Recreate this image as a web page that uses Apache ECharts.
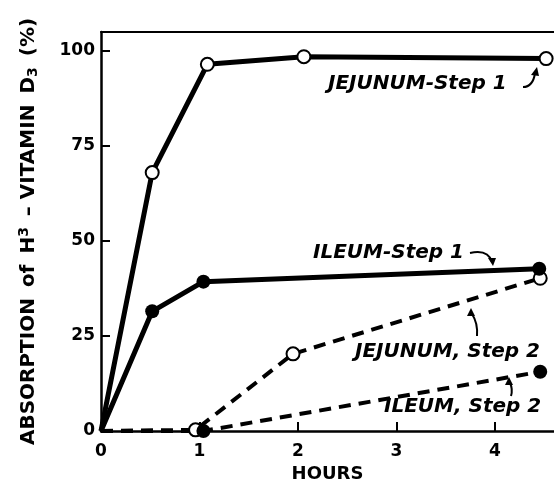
<!DOCTYPE html>
<html><head><meta charset="utf-8">
<script src="https://cdn.jsdelivr.net/npm/echarts@6/dist/echarts.min.js"></script>
<style>html,body{margin:0;padding:0;background:#fff}#c{width:554px;height:479px}</style>
</head><body><div id="c"></div>
<script>
const xTicks = [0, 1, 2, 3, 4];
const yTicks = [0, 25, 50, 75, 100];
const jejunumStep1 = [[0, 0], [0.52, 68], [1.08, 96.5], [2.06, 98.5], [4.52, 98]];
const ileumStep1 = [[0, 0], [0.52, 31.5], [1.04, 39.3], [4.45, 42.7]];
const jejunumStep2 = [[0, 0], [0.96, 0.3], [1.95, 20.3], [4.46, 40.2]];
const ileumStep2 = [[0, 0], [1.04, 0], [4.46, 15.6]];

const FONT = '"DejaVu Sans", "Liberation Sans", Arial, sans-serif';
function pts(arr) { return arr.map((p, i) => i === 0 ? { value: p, symbol: 'none' } : { value: p }); }
function mk(name, data, open, dashed) {
  return {
    name, type: 'line', data: pts(data), symbol: 'circle',
    symbolSize: open ? 13 : 14,
    itemStyle: { color: open ? '#fff' : '#000', borderColor: '#000', borderWidth: open ? 2 : 0 },
    lineStyle: { color: '#000', width: dashed ? 4 : 5, type: dashed ? [12, 8] : 'solid' },
    animation: false, z: dashed ? 3 : 4
  };
}
const chart = echarts.init(document.getElementById('c'));
chart.setOption({
  backgroundColor: '#fff',
  grid: { left: 101, right: 0, top: 32, bottom: 48, containLabel: false, outerBoundsMode: 'none' },
  xAxis: [{
    type: 'value', min: 0, max: 4.6, interval: 1,
    axisLine: { lineStyle: { color: '#000', width: 2.5 } },
    axisTick: { inside: true, length: 9, lineStyle: { color: '#000', width: 2 } },
    splitLine: { show: false },
    axisLabel: { color: '#000', fontFamily: FONT, fontSize: 17, fontWeight: 'bold', margin: 12,
      formatter: v => xTicks.includes(v) ? String(v) : '', showMaxLabel: false },
    name: 'HOURS', nameLocation: 'middle', nameGap: 30,
    nameTextStyle: { color: '#000', fontFamily: FONT, fontSize: 18, fontWeight: 'bold' }
  }, {
    type: 'value', position: 'top', min: 0, max: 4.6,
    axisLine: { show: true, lineStyle: { color: '#000', width: 2 } },
    axisTick: { show: false }, axisLabel: { show: false }, splitLine: { show: false }
  }],
  yAxis: {
    type: 'value', min: 0, max: 105, interval: 25,
    axisLine: { lineStyle: { color: '#000', width: 2.5 } },
    axisTick: { inside: true, length: 9, lineStyle: { color: '#000', width: 2 } },
    splitLine: { show: false },
    axisLabel: { color: '#000', fontFamily: FONT, fontSize: 17, fontWeight: 'bold', margin: 6, showMaxLabel: false,
      formatter: v => yTicks.includes(v) ? String(v) : '' },
    name: '{a|ABSORPTION}{g|of}{g|H}{s|3}{g|– VITAMIN}{g|D}{b|3}{g|(%)}',
    nameLocation: 'middle', nameGap: 60, nameRotate: 90,
    nameTextStyle: {
      rich: {
        a: { fontFamily: FONT, fontSize: 20, fontWeight: 'bold', color: '#000' },
        g: { fontFamily: FONT, fontSize: 20, fontWeight: 'bold', color: '#000', padding: [0, 0, 0, 11] },
        s: { fontFamily: FONT, fontSize: 14, fontWeight: 'bold', color: '#000', verticalAlign: 'top', padding: [0, 0, 10, 0] },
        b: { fontFamily: FONT, fontSize: 14, fontWeight: 'bold', color: '#000', padding: [8, 0, 0, 0] }
      }
    }
  },
  series: [
    mk('JEJUNUM-Step 1', jejunumStep1, true, false),
    mk('ILEUM-Step 1', ileumStep1, false, false),
    mk('JEJUNUM, Step 2', jejunumStep2, true, true),
    mk('ILEUM, Step 2', ileumStep2, false, true)
  ],
  graphic: [
    { type: 'text', left: 328, top: 74, style: { text: 'JEJUNUM-Step 1', font: 'italic bold 20px ' + FONT, fill: '#000' } },
    { type: 'text', left: 313, top: 243, style: { text: 'ILEUM-Step 1', font: 'italic bold 20px ' + FONT, fill: '#000' } },
    { type: 'text', left: 355, top: 342, style: { text: 'JEJUNUM, Step 2', font: 'italic bold 20px ' + FONT, fill: '#000' } },
    { type: 'text', left: 384, top: 397, style: { text: 'ILEUM, Step 2', font: 'italic bold 20px ' + FONT, fill: '#000' } },
    { type: 'bezierCurve', shape: { x1: 523, y1: 87, x2: 535, y2: 73, cpx1: 533, cpy1: 87 }, style: { stroke: '#000', lineWidth: 2, fill: null } },
    { type: 'polygon', shape: { points: [[537, 67], [531, 75], [539, 76]] }, style: { fill: '#000' } },
    { type: 'bezierCurve', shape: { x1: 470, y1: 253, x2: 492, y2: 262, cpx1: 488, cpy1: 249 }, style: { stroke: '#000', lineWidth: 2, fill: null } },
    { type: 'polygon', shape: { points: [[493, 266], [488, 258], [496, 258]] }, style: { fill: '#000' } },
    { type: 'bezierCurve', shape: { x1: 477, y1: 336, x2: 472, y2: 314, cpx1: 478, cpy1: 323 }, style: { stroke: '#000', lineWidth: 2, fill: null } },
    { type: 'polygon', shape: { points: [[471, 308], [467, 316], [475, 316]] }, style: { fill: '#000' } },
    { type: 'bezierCurve', shape: { x1: 511, y1: 396, x2: 510, y2: 383, cpx1: 513, cpy1: 389 }, style: { stroke: '#000', lineWidth: 2, fill: null } },
    { type: 'polygon', shape: { points: [[509, 377], [505, 385], [513, 385]] }, style: { fill: '#000' } }
  ]
});
</script></body></html>
